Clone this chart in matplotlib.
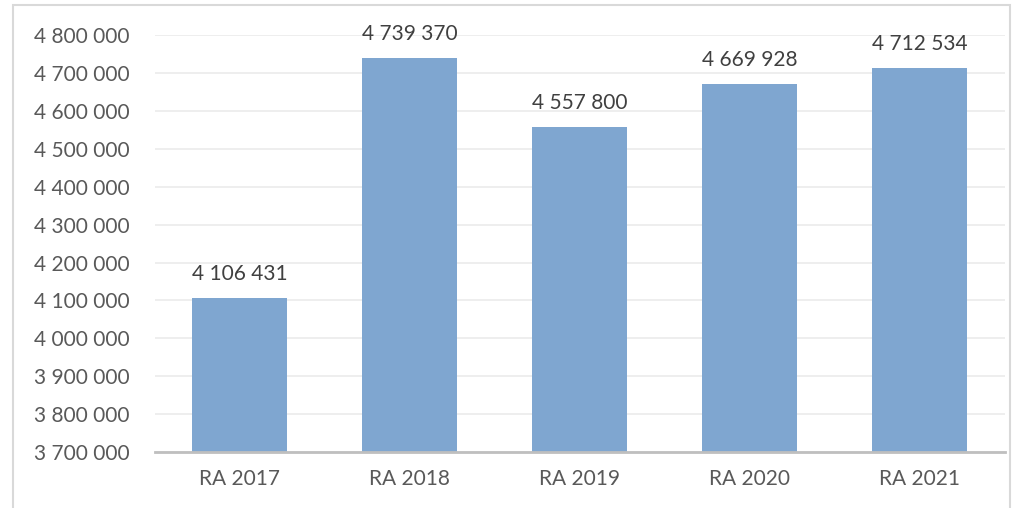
import matplotlib.pyplot as plt
from matplotlib.patches import Rectangle

categories = ["RA 2017", "RA 2018", "RA 2019", "RA 2020", "RA 2021"]
values = [4106431, 4739370, 4557800, 4669928, 4712534]
y_ticks = list(range(3700000, 4800001, 100000))


def fmt(v):
    return f"{v:,}".replace(",", " ")


plt.rcParams['font.family'] = ['Lato', 'DejaVu Sans']
text_color = "#595959"

fig = plt.figure(figsize=(10.18, 5.08), dpi=100)
ax = fig.add_axes([0.152, 0.110, 0.835, 0.821])

# chart area border like in the spreadsheet export
fig.patches.append(Rectangle((13 / 1018, -0.05), 997 / 1018, 1.05 - 5 / 508,
                             transform=fig.transFigure, fill=False,
                             edgecolor="#D9D9D9", linewidth=1.5))

x = range(len(categories))
ax.bar(x, values, width=0.56, color="#7FA6D0", zorder=3)
for xi, v in zip(x, values):
    ax.annotate(fmt(v), (xi, v), xytext=(0, 10), textcoords="offset points",
                ha="center", va="bottom", fontsize=15, color="#404040")

ax.set_ylim(3700000, 4800000)
ax.set_xlim(-0.5, len(categories) - 0.5)
ax.set_yticks(y_ticks)
ax.set_yticklabels([fmt(t) for t in y_ticks])
ax.set_xticks(list(x))
ax.set_xticklabels(categories)
ax.tick_params(axis="both", length=0, labelsize=15, labelcolor=text_color)
ax.tick_params(axis="y", pad=18)
ax.tick_params(axis="x", pad=12)
ax.grid(axis="y", color="#EBEBEB", linewidth=1.2, zorder=0)
for s in ["top", "right", "left"]:
    ax.spines[s].set_visible(False)
ax.spines["bottom"].set_color("#BFBFBF")
ax.spines["bottom"].set_linewidth(2)
ax.spines["bottom"].set_zorder(4)

fig.savefig("out.png", dpi=100)
